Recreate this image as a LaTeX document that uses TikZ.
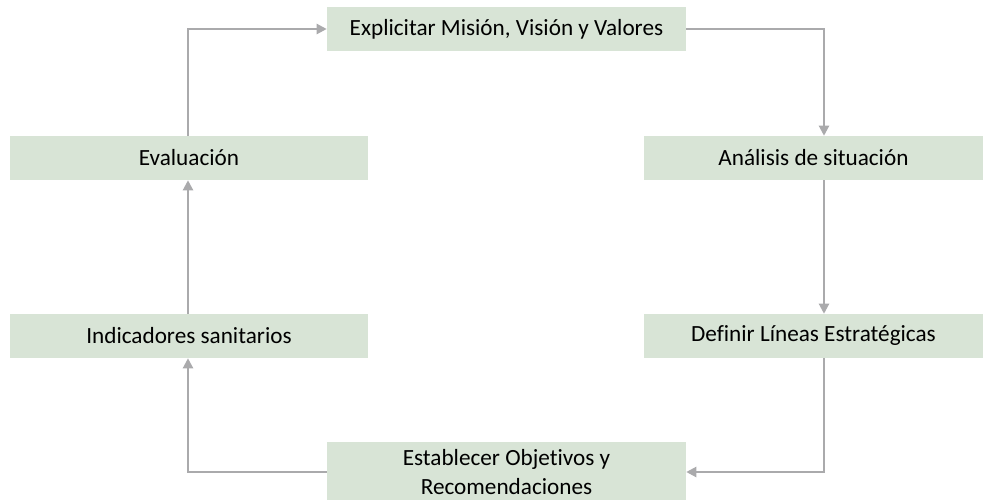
\documentclass[tikz,border=0pt]{standalone}
\usepackage{fontspec}
\setmainfont[Ligatures=NoCommon]{Carlito}
\usetikzlibrary{arrows.meta,calc}
\definecolor{boxfill}{RGB}{216,228,214}
\definecolor{arrgray}{RGB}{170,170,172}
\begin{document}
\begin{tikzpicture}[x=0.75pt,y=-0.75pt,
  stagebox/.style={fill=boxfill,draw=none,inner sep=0pt,minimum height=33pt,align=center,font=\fontsize{17.4}{21.5}\selectfont},
  conn/.style={draw=arrgray,line width=1.6pt,-{Triangle[length=7.5pt,width=7.5pt]}}]
\useasboundingbox (0,0) rectangle (986,500);
\node[stagebox,minimum width=269.25pt] (mis) at (506.5,29) {Explicitar Misión, Visión y Valores};
\node[stagebox,minimum width=254.25pt] (ana) at (813.5,158) {Análisis de situación};
\node[stagebox,minimum width=254.25pt] (def) at (813.5,336) {Definir Líneas Estratégicas};
\node[stagebox,minimum width=269.25pt,minimum height=45pt] (obj) at (506.5,472) {Establecer Objetivos y\\Recomendaciones};
\node[stagebox,minimum width=268.5pt] (ind) at (189,336) {Indicadores sanitarios};
\node[stagebox,minimum width=268.5pt] (eva) at (189,158) {Evaluación};
\coordinate (cr) at (824,0);
\coordinate (cl) at (188,0);
\draw[conn] (mis.east) -| (cr |- ana.north);
\draw[conn] (cr |- ana.south) -- (cr |- def.north);
\draw[conn] (cr |- def.south) |- (obj.east);
\draw[conn] (obj.west) -| (cl |- ind.south);
\draw[conn] (cl |- ind.north) -- (cl |- eva.south);
\draw[conn] (cl |- eva.north) |- (mis.west);
\end{tikzpicture}
\end{document}
